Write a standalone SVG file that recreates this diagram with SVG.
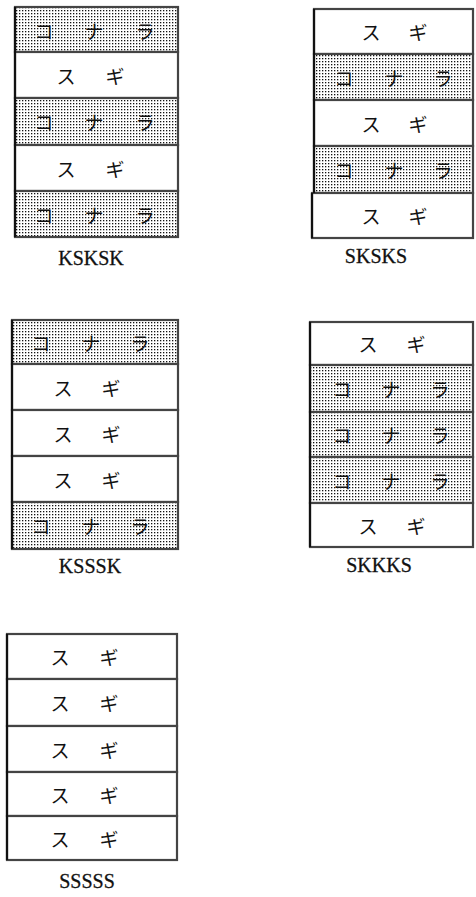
<svg xmlns="http://www.w3.org/2000/svg" width="476" height="897" viewBox="0 0 476 897">
<defs>
<pattern id="dots" width="3" height="3" patternUnits="userSpaceOnUse">
<rect width="3" height="3" fill="#fff"/>
<rect x="1" y="1" width="1.3" height="1.3" fill="#111"/>
</pattern>
</defs>
<style>
.k{fill:url(#dots);stroke:#444;stroke-width:2.2}
.s{fill:#fff;stroke:#444;stroke-width:2.2}
.edge{fill:none;stroke:#111;stroke-width:2.2}
.jp{font-family:"Noto Sans CJK JP",sans-serif;font-size:19px;font-weight:400;fill:#111;text-anchor:middle;dominant-baseline:central}
.lbl{font-family:"Liberation Serif",serif;font-size:20px;fill:#111;stroke:#111;stroke-width:0.3;text-anchor:middle}
</style>
<rect width="476" height="897" fill="#fff"/>

<g id="stack-KSKSK">
<g id="A1"><rect class="k" x="15" y="7" width="163" height="45"/><text class="jp" x="44 69 94 119 145" y="30">コ ナ ラ</text></g>
<g id="A2"><rect class="s" x="15" y="52" width="163" height="46"/><text class="jp" x="66 90 115" y="75">ス ギ</text></g>
<g id="A3"><rect class="k" x="15" y="98" width="163" height="47"/><text class="jp" x="44 69 94 119 145" y="121">コ ナ ラ</text></g>
<g id="A4"><rect class="s" x="15" y="145" width="163" height="46"/><text class="jp" x="66 90 115" y="168">ス ギ</text></g>
<g id="A5"><rect class="k" x="15" y="191" width="163" height="46"/><text class="jp" x="44 69 94 119 145" y="214">コ ナ ラ</text></g>
<line class="edge" x1="15" y1="7" x2="15" y2="237"/>
<text class="lbl" x="91" y="265">KSKSK</text>
</g>

<g id="stack-SKSKS">
<g id="B1"><rect class="s" x="314" y="9" width="159" height="45"/><text class="jp" x="371 394 418" y="31">ス ギ</text></g>
<g id="B2"><rect class="k" x="314" y="54" width="159" height="46"/><text class="jp" x="344 369 394 418 443" y="77">コ ナ ラ</text></g>
<g id="B3"><rect class="s" x="314" y="100" width="159" height="46"/><text class="jp" x="371 394 418" y="123">ス ギ</text></g>
<g id="B4"><rect class="k" x="314" y="146" width="159" height="47"/><text class="jp" x="344 369 394 418 443" y="169">コ ナ ラ</text></g>
<g id="B5"><rect class="s" x="312" y="193" width="161" height="45"/><text class="jp" x="371 394 418" y="215">ス ギ</text></g>
<line class="edge" x1="314" y1="9" x2="314" y2="193"/>
<line class="edge" x1="312" y1="193" x2="312" y2="238"/>
<text class="lbl" x="376" y="263">SKSKS</text>
</g>

<g id="stack-KSSSK">
<g id="C1"><rect class="k" x="12" y="320" width="166" height="44"/><text class="jp" x="41 66 91 115 140" y="342">コ ナ ラ</text></g>
<g id="C2"><rect class="s" x="12" y="364" width="166" height="46"/><text class="jp" x="63 87 111" y="387">ス ギ</text></g>
<g id="C3"><rect class="s" x="12" y="410" width="166" height="46"/><text class="jp" x="63 87 111" y="433">ス ギ</text></g>
<g id="C4"><rect class="s" x="12" y="456" width="166" height="46"/><text class="jp" x="63 87 111" y="479">ス ギ</text></g>
<g id="C5"><rect class="k" x="12" y="502" width="166" height="47"/><text class="jp" x="41 66 91 115 140" y="525">コ ナ ラ</text></g>
<line class="edge" x1="12" y1="320" x2="12" y2="549"/>
<text class="lbl" x="90" y="573">KSSSK</text>
</g>

<g id="stack-SKKKS">
<g id="D1"><rect class="s" x="310" y="322" width="163" height="43"/><text class="jp" x="368 392 416" y="343">ス ギ</text></g>
<g id="D2"><rect class="k" x="310" y="365" width="163" height="47"/><text class="jp" x="342 366 391 415 440" y="388">コ ナ ラ</text></g>
<g id="D3"><rect class="k" x="310" y="412" width="163" height="45"/><text class="jp" x="342 366 391 415 440" y="434">コ ナ ラ</text></g>
<g id="D4"><rect class="k" x="310" y="457" width="163" height="46"/><text class="jp" x="342 366 391 415 440" y="480">コ ナ ラ</text></g>
<g id="D5"><rect class="s" x="310" y="503" width="163" height="44"/><text class="jp" x="368 392 416" y="525">ス ギ</text></g>
<line class="edge" x1="310" y1="322" x2="310" y2="547"/>
<text class="lbl" x="379" y="572">SKKKS</text>
</g>

<g id="stack-SSSSS">
<g id="E1"><rect class="s" x="7" y="634" width="170" height="45"/><text class="jp" x="60 84 109" y="656">ス ギ</text></g>
<g id="E2"><rect class="s" x="7" y="679" width="170" height="47"/><text class="jp" x="60 84 109" y="702">ス ギ</text></g>
<g id="E3"><rect class="s" x="7" y="726" width="170" height="46"/><text class="jp" x="60 84 109" y="749">ス ギ</text></g>
<g id="E4"><rect class="s" x="7" y="772" width="170" height="44"/><text class="jp" x="60 84 109" y="794">ス ギ</text></g>
<g id="E5"><rect class="s" x="7" y="816" width="170" height="44"/><text class="jp" x="60 84 109" y="838">ス ギ</text></g>
<line class="edge" x1="7" y1="634" x2="7" y2="860"/>
<text class="lbl" x="87" y="888">SSSSS</text>
</g>
</svg>
